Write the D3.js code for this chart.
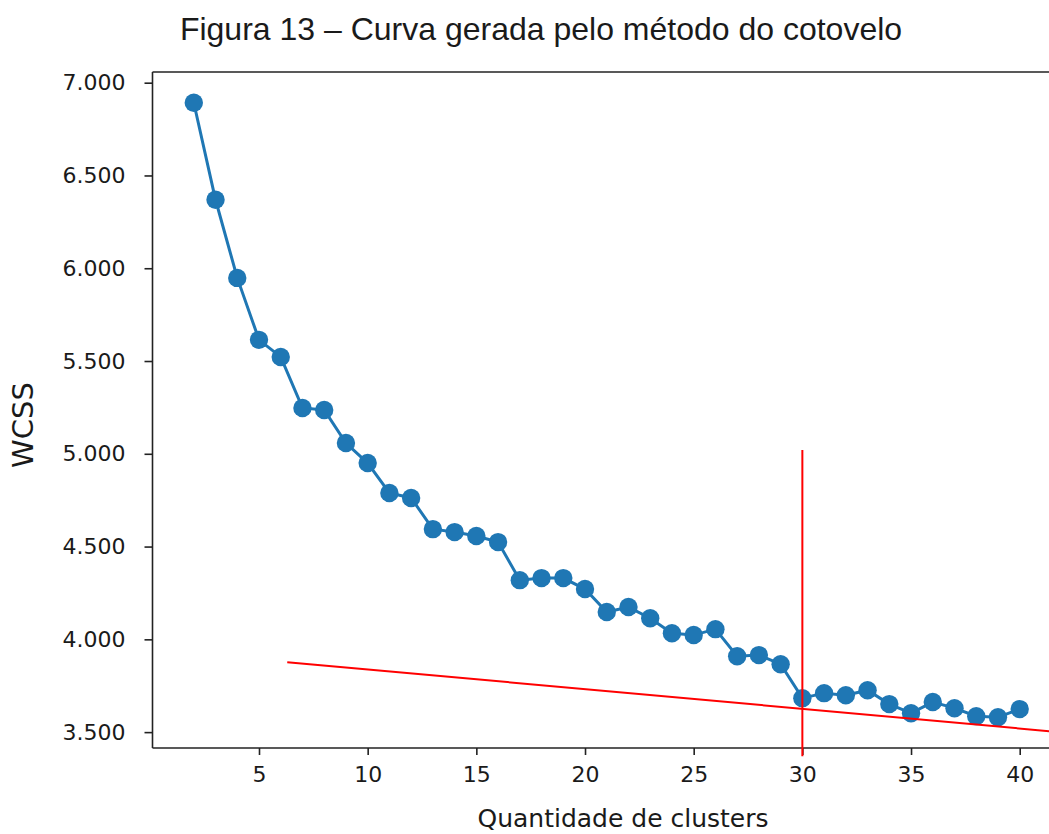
<!DOCTYPE html>
<html>
<head>
<meta charset="utf-8">
<script src="https://cdn.jsdelivr.net/npm/d3@7"></script>
<style>
  html, body { margin: 0; padding: 0; background: #fff; }
  text { font-family: "DejaVu Sans", sans-serif; fill: #1a1a1a; }
</style>
</head>
<body>
<svg id="chart" width="1049" height="834"></svg>
<script>
// ---- data ----
const clusters = [2,3,4,5,6,7,8,9,10,11,12,13,14,15,16,17,18,19,20,21,22,23,24,25,26,27,28,29,30,31,32,33,34,35,36,37,38,39,40];
const wcss = [6892,6369,5948,5614,5522,5247,5236,5058,4950,4789,4762,4594,4578,4557,4524,4319,4330,4330,4271,4147,4174,4114,4033,4023,4055,3909,3915,3866,3683,3710,3699,3726,3651,3602,3662,3629,3586,3580,3624];
const xTicks = [5,10,15,20,25,30,35,40];
const yTicks = [3500,4000,4500,5000,5500,6000,6500,7000];
const elbowX = [30, 30];
const elbowY = [5020, 3370];
const trendX = [6.3, 42.5];
const trendY = [3877, 3493];
const title = "Figura 13 – Curva gerada pelo método do cotovelo";
const xLabel = "Quantidade de clusters";
const yLabel = "WCSS";

// ---- layout ----
const svg = d3.select("#chart");
const pLeft = 152.5, pRight = 1061, pTop = 72, pBottom = 748;

const xExt = d3.extent(clusters), yExt = d3.extent(wcss);
const xPad = (xExt[1]-xExt[0])*0.05, yPad = (yExt[1]-yExt[0])*0.05;
const x = d3.scaleLinear().domain([xExt[0]-xPad, xExt[1]+xPad]).range([pLeft, pRight]);
const y = d3.scaleLinear().domain([yExt[0]-yPad, yExt[1]+yPad]).range([pBottom, pTop]);

const fmt = d => d3.format(",")(d).replace(/,/g, ".");

// title
svg.append("text").attr("x", 541).attr("y", 40).attr("text-anchor", "middle")
  .style("font-family", '"Liberation Sans", Arial, sans-serif')
  .attr("font-size", 32).text(title);

// frame
svg.append("line").attr("x1", pLeft).attr("x2", pRight).attr("y1", pTop).attr("y2", pTop)
  .attr("stroke", "#222").attr("stroke-width", 1.6);
svg.append("line").attr("x1", pRight).attr("x2", pRight).attr("y1", pTop).attr("y2", pBottom)
  .attr("stroke", "#222").attr("stroke-width", 1.6);

// axes
const gx = svg.append("g").attr("transform", `translate(0,${pBottom})`)
  .call(d3.axisBottom(x).tickValues(xTicks).tickSize(7).tickPadding(11).tickSizeOuter(0));
const gy = svg.append("g").attr("transform", `translate(${pLeft},0)`)
  .call(d3.axisLeft(y).tickValues(yTicks).tickFormat(fmt).tickSize(8).tickPadding(19).tickSizeOuter(0));
[gx, gy].forEach(g => {
  g.select(".domain").attr("stroke", "#222").attr("stroke-width", 1.6);
  g.selectAll(".tick line").attr("stroke", "#222").attr("stroke-width", 1.6);
  g.selectAll(".tick text").attr("font-size", 22).attr("fill", "#1a1a1a")
    .style("font-family", '"DejaVu Sans", sans-serif');
});
gx.select(".domain").attr("d", `M${pLeft},0H${pRight}`);
gy.select(".domain").attr("d", `M0,${pBottom}V${pTop}`);

// axis labels
svg.append("text").attr("x", 623).attr("y", 827).attr("text-anchor", "middle")
  .attr("font-size", 25).text(xLabel);
svg.append("text").attr("transform", "translate(33,425) rotate(-90)").attr("text-anchor", "middle")
  .attr("font-size", 29).text(yLabel);

// data line + markers
const pts = clusters.map((c, i) => [c, wcss[i]]);
const line = d3.line().x(d => x(d[0])).y(d => y(d[1]));
svg.append("path").datum(pts).attr("d", line).attr("fill", "none")
  .attr("stroke", "#1f77b4").attr("stroke-width", 3);
svg.append("g").selectAll("circle").data(pts).join("circle")
  .attr("cx", d => x(d[0])).attr("cy", d => y(d[1])).attr("r", 9.2).attr("fill", "#1f77b4");

// red lines
svg.append("line").attr("x1", x(trendX[0])).attr("y1", y(trendY[0]))
  .attr("x2", x(trendX[1])).attr("y2", y(trendY[1])).attr("stroke", "#ff0000").attr("stroke-width", 2);
svg.append("line").attr("x1", x(elbowX[0])).attr("y1", y(elbowY[0]))
  .attr("x2", x(elbowX[1])).attr("y2", y(elbowY[1])).attr("stroke", "#ff0000").attr("stroke-width", 2);
</script>
</body>
</html>
